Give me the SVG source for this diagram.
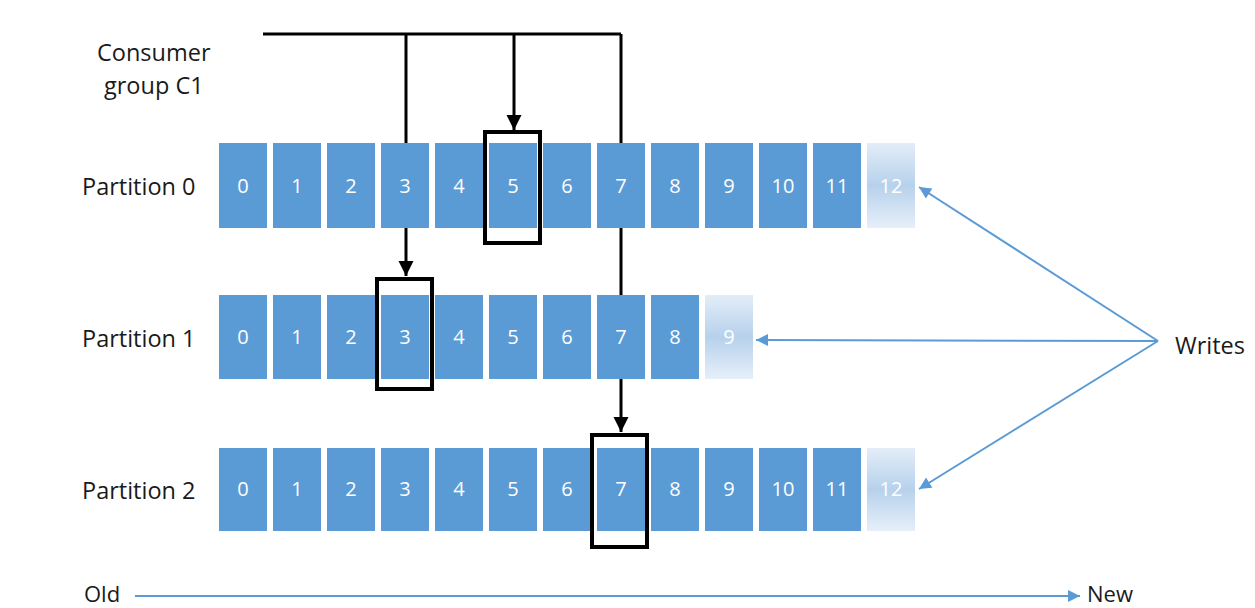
<svg xmlns="http://www.w3.org/2000/svg" width="1255" height="608" viewBox="0 0 1255 608">
<style>
.cell{fill:#5b9bd5}
.fade{fill:url(#fadeGrad)}
.num{font-family:"Open Sans","Noto Sans",sans-serif;font-size:20px;fill:#ffffff;text-anchor:middle}
.lbl{font-family:"Open Sans","Noto Sans",sans-serif;font-size:23.5px;fill:#1a1a1a}
.tl{font-family:"Open Sans","Noto Sans",sans-serif;font-size:22px;fill:#1a1a1a}
.box{fill:none;stroke:#000;stroke-width:4}
.con{fill:none;stroke:#000;stroke-width:3}
.blue{fill:none;stroke:#5b9bd5;stroke-width:2}
</style>
<defs>
<linearGradient id="fadeGrad" x1="0" y1="0" x2="0" y2="1">
<stop offset="0" stop-color="#e3edf8"/>
<stop offset="0.5" stop-color="#b7d1ec"/>
<stop offset="1" stop-color="#e6eff9"/>
</linearGradient>
<marker id="ab" viewBox="0 0 10 10" refX="10" refY="5" markerWidth="5" markerHeight="6" markerUnits="strokeWidth" orient="auto">
<path d="M0,0 L10,5 L0,10 z" fill="#000"/>
</marker>
<marker id="ablue" viewBox="0 0 10 10" refX="10" refY="5" markerWidth="7" markerHeight="6" markerUnits="strokeWidth" orient="auto">
<path d="M0,0 L10,5 L0,10 z" fill="#5b9bd5"/>
</marker>
</defs>
<rect width="1255" height="608" fill="#fff"/>

<g id="connectors">
<path class="con" d="M263,34 H621"/>
<path class="con" d="M621,34 V432" marker-end="url(#ab)"/>
<path class="con" d="M406,34 V276" marker-end="url(#ab)"/>
<path class="con" d="M514,34 V130" marker-end="url(#ab)"/>
<path class="blue" d="M1158,341 L919,187" marker-end="url(#ablue)"/>
<path class="blue" d="M1158,341 L756,340" marker-end="url(#ablue)"/>
<path class="blue" d="M1158,341 L919,489" marker-end="url(#ablue)"/>
<path class="blue" d="M135,596 L1080,596" marker-end="url(#ablue)"/>
</g>

<g id="label-consumer">
<text class="lbl" x="97" y="61">Consumer</text>
<text class="lbl" x="104" y="94">group C1</text>
</g>

<g id="partition0">
<text class="lbl" x="82" y="195">Partition 0</text>
<rect class="cell" x="219" y="143" width="48" height="85"/><text class="num" x="243" y="193">0</text>
<rect class="cell" x="273" y="143" width="48" height="85"/><text class="num" x="297" y="193">1</text>
<rect class="cell" x="327" y="143" width="48" height="85"/><text class="num" x="351" y="193">2</text>
<rect class="cell" x="381" y="143" width="48" height="85"/><text class="num" x="405" y="193">3</text>
<rect class="cell" x="435" y="143" width="48" height="85"/><text class="num" x="459" y="193">4</text>
<rect class="cell" x="489" y="143" width="48" height="85"/><text class="num" x="513" y="193">5</text>
<rect class="cell" x="543" y="143" width="48" height="85"/><text class="num" x="567" y="193">6</text>
<rect class="cell" x="597" y="143" width="48" height="85"/><text class="num" x="621" y="193">7</text>
<rect class="cell" x="651" y="143" width="48" height="85"/><text class="num" x="675" y="193">8</text>
<rect class="cell" x="705" y="143" width="48" height="85"/><text class="num" x="729" y="193">9</text>
<rect class="cell" x="759" y="143" width="48" height="85"/><text class="num" x="783" y="193">10</text>
<rect class="cell" x="813" y="143" width="48" height="85"/><text class="num" x="837" y="193">11</text>
<rect class="fade" x="867" y="143" width="48" height="85"/><text class="num" x="891" y="193">12</text>
</g>

<g id="partition1">
<text class="lbl" x="82" y="347">Partition 1</text>
<rect class="cell" x="219" y="295" width="48" height="84"/><text class="num" x="243" y="344">0</text>
<rect class="cell" x="273" y="295" width="48" height="84"/><text class="num" x="297" y="344">1</text>
<rect class="cell" x="327" y="295" width="48" height="84"/><text class="num" x="351" y="344">2</text>
<rect class="cell" x="381" y="295" width="48" height="84"/><text class="num" x="405" y="344">3</text>
<rect class="cell" x="435" y="295" width="48" height="84"/><text class="num" x="459" y="344">4</text>
<rect class="cell" x="489" y="295" width="48" height="84"/><text class="num" x="513" y="344">5</text>
<rect class="cell" x="543" y="295" width="48" height="84"/><text class="num" x="567" y="344">6</text>
<rect class="cell" x="597" y="295" width="48" height="84"/><text class="num" x="621" y="344">7</text>
<rect class="cell" x="651" y="295" width="48" height="84"/><text class="num" x="675" y="344">8</text>
<rect class="fade" x="705" y="295" width="48" height="84"/><text class="num" x="729" y="344">9</text>
</g>

<g id="partition2">
<text class="lbl" x="82" y="499">Partition 2</text>
<rect class="cell" x="219" y="448" width="48" height="83"/><text class="num" x="243" y="496">0</text>
<rect class="cell" x="273" y="448" width="48" height="83"/><text class="num" x="297" y="496">1</text>
<rect class="cell" x="327" y="448" width="48" height="83"/><text class="num" x="351" y="496">2</text>
<rect class="cell" x="381" y="448" width="48" height="83"/><text class="num" x="405" y="496">3</text>
<rect class="cell" x="435" y="448" width="48" height="83"/><text class="num" x="459" y="496">4</text>
<rect class="cell" x="489" y="448" width="48" height="83"/><text class="num" x="513" y="496">5</text>
<rect class="cell" x="543" y="448" width="48" height="83"/><text class="num" x="567" y="496">6</text>
<rect class="cell" x="597" y="448" width="48" height="83"/><text class="num" x="621" y="496">7</text>
<rect class="cell" x="651" y="448" width="48" height="83"/><text class="num" x="675" y="496">8</text>
<rect class="cell" x="705" y="448" width="48" height="83"/><text class="num" x="729" y="496">9</text>
<rect class="cell" x="759" y="448" width="48" height="83"/><text class="num" x="783" y="496">10</text>
<rect class="cell" x="813" y="448" width="48" height="83"/><text class="num" x="837" y="496">11</text>
<rect class="fade" x="867" y="448" width="48" height="83"/><text class="num" x="891" y="496">12</text>
</g>

<g id="offset-boxes">
<rect class="box" x="485" y="132" width="55" height="111"/>
<rect class="box" x="377" y="279" width="55" height="110"/>
<rect class="box" x="592" y="435" width="55" height="112"/>
</g>

<g id="writes-label">
<text class="lbl" x="1175" y="354">Writes</text>
</g>

<g id="timeline">
<text class="tl" x="84" y="602">Old</text>
<text class="tl" x="1087" y="602">New</text>
</g>
</svg>
